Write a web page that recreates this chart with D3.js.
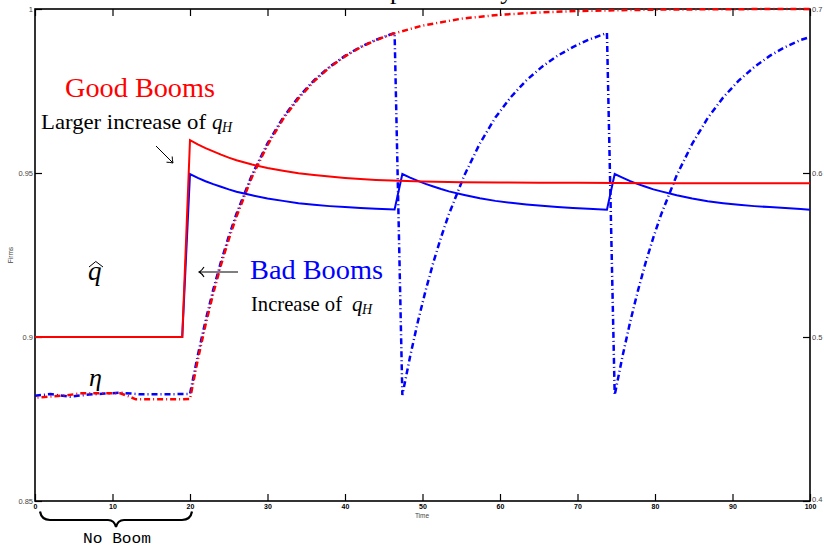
<!DOCTYPE html>
<html>
<head>
<meta charset="utf-8">
<script src="https://cdn.jsdelivr.net/npm/d3@7"></script>
<style>
body { margin: 0; background: #fff; }
svg { display: block; }
</style>
</head>
<body>
<div id="chart"></div>
<script>
// frame + plot box (pixels)
const FRAME_WIDTH = 824;
const FRAME_HEIGHT = 547;
const PLOT = {left: 35, right: 810, top: 9, bottom: 501};

// ---- data ----
// good booms (red)
const timeGood = [0, 2, 4, 6, 9, 11, 12, 13, 16, 19,
                  20, 21, 22, 23, 24, 25, 26, 28, 30, 32, 34, 36, 38, 40, 42, 44, 46,
                  50, 55, 60, 65, 70, 80, 90, 100];
const qGood = [0.9, 0.9, 0.9, 0.9, 0.9, 0.9, 0.9, 0.9, 0.9, 0.9,
               0.9600, 0.9587, 0.9576, 0.9566, 0.9556, 0.9547, 0.9539, 0.9526, 0.9515, 0.9507,
               0.9499, 0.9494, 0.9489, 0.9485, 0.9482, 0.9479, 0.9477,
               0.9474, 0.9472, 0.9471, 0.9470, 0.9470, 0.9469, 0.9469, 0.9469];
const etaGood = [0.4630, 0.4637, 0.4644, 0.4657, 0.4657, 0.4657, 0.4640, 0.4620, 0.4620, 0.4620,
                 0.4622, 0.4860, 0.5073, 0.5266, 0.5439, 0.5595, 0.5735, 0.5976, 0.6170, 0.6328,
                 0.6455, 0.6559, 0.6643, 0.6711, 0.6766, 0.6810, 0.6846,
                 0.6899, 0.6941, 0.6965, 0.6979, 0.6988, 0.6996, 0.6999, 0.7000];

// bad booms (blue)
const timeBad = [0, 2, 3, 4.5, 7, 9, 11, 13.5, 16, 19,
                 20, 21, 22, 23, 24, 25, 26, 28, 30, 32, 34, 36, 38, 40, 42, 44, 46.4,
                 47.4, 48.4, 49.4, 50.4, 51.4, 52.4, 53.4, 55.4, 57.4, 59.4, 61.4, 63.4, 65.4, 67.4, 69.4, 71.4, 73.8,
                 74.8, 75.8, 76.8, 77.8, 78.8, 79.8, 80.8, 82.8, 84.8, 86.8, 88.8, 90.8, 92.8, 94.8, 96.8, 98.8, 100];
const qBad = [0.9, 0.9, 0.9, 0.9, 0.9, 0.9, 0.9, 0.9, 0.9, 0.9,
              0.9497, 0.9485, 0.9475, 0.9466, 0.9458, 0.9450, 0.9443, 0.9432, 0.9422, 0.9415,
              0.9408, 0.9403, 0.9399, 0.9396, 0.9393, 0.9391, 0.9389,
              0.9497, 0.9486, 0.9476, 0.9467, 0.9459, 0.9451, 0.9444, 0.9433, 0.9423, 0.9415,
              0.9409, 0.9404, 0.9400, 0.9396, 0.9393, 0.9391, 0.9388,
              0.9497, 0.9486, 0.9475, 0.9466, 0.9458, 0.9450, 0.9444, 0.9432, 0.9422, 0.9414,
              0.9408, 0.9403, 0.9399, 0.9396, 0.9393, 0.9390, 0.9388];
const etaBad = [0.4642, 0.4652, 0.4645, 0.4636, 0.4649, 0.4655, 0.4660, 0.4651, 0.4651, 0.4652,
                0.4653, 0.4887, 0.5098, 0.5289, 0.5459, 0.5613, 0.5752, 0.5989, 0.6181, 0.6337,
                0.6463, 0.6565, 0.6647, 0.6714, 0.6769, 0.6812, 0.6854,
                0.4646, 0.4881, 0.5093, 0.5283, 0.5455, 0.5609, 0.5748, 0.5986, 0.6180, 0.6338,
                0.6463, 0.6565, 0.6647, 0.6714, 0.6768, 0.6812, 0.6854,
                0.4646, 0.4881, 0.5093, 0.5283, 0.5455, 0.5609, 0.5748, 0.5986, 0.6178, 0.6335,
                0.6461, 0.6563, 0.6646, 0.6714, 0.6768, 0.6812, 0.6828];

// ticks
const xTicks = [0, 10, 20, 30, 40, 50, 60, 70, 80, 90, 100];
const xTickLabels = ["0", "10", "20", "30", "40", "50", "60", "70", "80", "90", "100"];
const leftTicks = [0.85, 0.9, 0.95, 1];
const leftTickLabels = ["0.85", "0.9", "0.95", "1"];
const rightTicks = [0.4, 0.5, 0.6, 0.7];
const rightTickLabels = ["0.4", "0.5", "0.6", "0.7"];

const SVG = d3.select("#chart")
              .append("svg")
                .attr("width", FRAME_WIDTH)
                .attr("height", FRAME_HEIGHT);

const X_SCALE = d3.scaleLinear().domain([0, 100]).range([PLOT.left, PLOT.right]);
const Y_LEFT = d3.scaleLinear().domain([0.85, 1]).range([PLOT.bottom, PLOT.top]);
const Y_RIGHT = d3.scaleLinear().domain([0.4, 0.7]).range([PLOT.bottom, PLOT.top]);

// title, cut off by the top of the picture
SVG.append("text")
     .attr("x", 361)
     .attr("y", -1)
     .attr("font-family", "Liberation Serif")
     .attr("font-size", 26)
     .text("Reputation Dynamics");

// axes (ticks point inward)
function styleTicks(g, size, weight, fill) {
    g.selectAll("text")
       .attr("font-family", "Liberation Sans")
       .attr("font-size", size)
       .attr("font-weight", weight)
       .attr("fill", fill);
    g.selectAll("line").attr("stroke", "#000").attr("stroke-width", 1.2);
    g.select(".domain").remove();
}

const xBottom = SVG.append("g")
    .attr("transform", "translate(0," + PLOT.bottom + ")")
    .call(d3.axisBottom(X_SCALE).tickValues(xTicks)
            .tickFormat((d, i) => xTickLabels[i])
            .tickSizeInner(-7).tickSizeOuter(0).tickPadding(3));
styleTicks(xBottom, 7, "bold", "#000");

const xTop = SVG.append("g")
    .attr("transform", "translate(0," + PLOT.top + ")")
    .call(d3.axisTop(X_SCALE).tickValues(xTicks)
            .tickFormat("").tickSizeInner(-7).tickSizeOuter(0));
styleTicks(xTop, 7, "normal", "#000");

const yLeftAxis = SVG.append("g")
    .attr("transform", "translate(" + PLOT.left + ",0)")
    .call(d3.axisLeft(Y_LEFT).tickValues(leftTicks)
            .tickFormat((d, i) => leftTickLabels[i])
            .tickSizeInner(-7).tickSizeOuter(0).tickPadding(2));
styleTicks(yLeftAxis, 7.5, "normal", "#444");

const yRightAxis = SVG.append("g")
    .attr("transform", "translate(" + PLOT.right + ",0)")
    .call(d3.axisRight(Y_RIGHT).tickValues(rightTicks)
            .tickFormat((d, i) => rightTickLabels[i])
            .tickSizeInner(-7).tickSizeOuter(0).tickPadding(2));
styleTicks(yRightAxis, 7.5, "normal", "#444");
// lowest right label sits a bit higher so it clears the "100"
yRightAxis.selectAll(".tick text").filter((d, i) => i === 0).attr("dy", "0.05em");

// box
SVG.append("rect")
     .attr("x", PLOT.left)
     .attr("y", PLOT.top)
     .attr("width", PLOT.right - PLOT.left)
     .attr("height", PLOT.bottom - PLOT.top)
     .attr("fill", "none")
     .attr("stroke", "#000")
     .attr("stroke-width", 1.6);

// axis titles
SVG.append("text")
     .attr("x", 422).attr("y", 518)
     .attr("text-anchor", "middle")
     .attr("font-family", "Liberation Sans")
     .attr("font-size", 6.5)
     .attr("fill", "#444")
     .text("Time");

SVG.append("text")
     .attr("transform", "translate(13,255) rotate(-90)")
     .attr("text-anchor", "middle")
     .attr("font-family", "Liberation Sans")
     .attr("font-size", 6.5)
     .attr("fill", "#444")
     .text("Firms");

// lines
const lineLeft = d3.line().x(d => X_SCALE(d[0])).y(d => Y_LEFT(d[1]));
const lineRight = d3.line().x(d => X_SCALE(d[0])).y(d => Y_RIGHT(d[1]));

SVG.append("path")
     .datum(d3.zip(timeBad, etaBad))
     .attr("d", lineRight)
     .attr("fill", "none")
     .attr("stroke", "#0000ff")
     .attr("stroke-width", 2.5)
     .attr("stroke-dasharray", "6,3,1,3");

SVG.append("path")
     .datum(d3.zip(timeGood, etaGood))
     .attr("d", lineRight)
     .attr("fill", "none")
     .attr("stroke", "#ff0000")
     .attr("stroke-width", 2.5)
     .attr("stroke-dasharray", "6,3,1,3")
     .attr("stroke-dashoffset", 6.5);

SVG.append("path")
     .datum(d3.zip(timeBad, qBad))
     .attr("d", lineLeft)
     .attr("fill", "none")
     .attr("stroke", "#0000ff")
     .attr("stroke-width", 2);

SVG.append("path")
     .datum(d3.zip(timeGood, qGood))
     .attr("d", lineLeft)
     .attr("fill", "none")
     .attr("stroke", "#ff0000")
     .attr("stroke-width", 2);

// annotations
function label(x, y, txt, size, color, style, family, width) {
    const t = SVG.append("text")
              .attr("x", x).attr("y", y)
              .attr("font-family", family || "Liberation Serif")
              .attr("font-size", size)
              .attr("font-style", style || "normal")
              .attr("fill", color)
              .text(txt);
    if (width) t.attr("textLength", width).attr("lengthAdjust", "spacingAndGlyphs");
    return t;
}

label(65, 97, "Good Booms", 28, "#ff0000", null, null, 150);
label(41, 129, "Larger increase of", 21, "#000", null, null, 165);
label(212, 129, "q", 21, "#000", "italic");
label(222, 132, "H", 14, "#000", "italic");

label(250, 279, "Bad Booms", 28, "#0000ff", null, null, 133);
label(251, 311, "Increase of", 21, "#000", null, null, 91);
label(352, 311, "q", 21, "#000", "italic");
label(362, 314, "H", 14, "#000", "italic");

label(88, 280, "q", 27, "#000", "italic");
SVG.append("path")
     .attr("d", "M89,267 L95.8,261.5 L103,267")
     .attr("fill", "none").attr("stroke", "#000").attr("stroke-width", 1);

label(89, 386, "η", 26, "#000", "italic");

label(83, 543, "No Boom", 15.5, "#000", "normal", "Liberation Mono", 68);

// arrows
SVG.append("path")
     .attr("d", "M156,146 L173,163 M166.5,162.2 Q170,162.3 173,163 Q172.3,160 172.2,156.5")
     .attr("fill", "none").attr("stroke", "#000").attr("stroke-width", 1);

SVG.append("path")
     .attr("d", "M199,272 L238,272 M204,267 Q202,270.5 199,272 Q202,273.5 204,277")
     .attr("fill", "none").attr("stroke", "#000").attr("stroke-width", 1.1);

// brace under the no-boom period
SVG.append("path")
     .attr("d", "M40,511.5 C41,517 44,520 50,520 L108,520 C113,520 115,523 116,527 C117,523 119,520 124,520 L182,520 C188,520 191,517 192,511.5")
     .attr("fill", "none").attr("stroke", "#000").attr("stroke-width", 2.2);
</script>
</body>
</html>
